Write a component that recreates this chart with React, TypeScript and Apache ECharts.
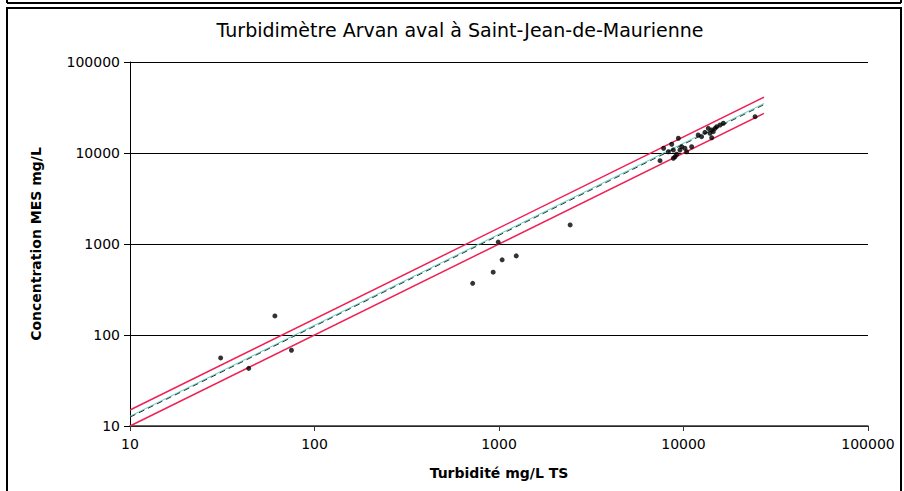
import React, { useEffect, useRef } from "react";
import * as echarts from "echarts";

const TITLE = "Turbidimètre Arvan aval à Saint-Jean-de-Maurienne";
const X_NAME = "Turbidité mg/L TS";
const Y_NAME = "Concentration MES mg/L";

// Measured points: [turbidity, concentration]
const points: [number, number][] = [
  [31, 56], [44, 43], [61, 162], [75, 68],
  [720, 370], [930, 490], [990, 1050], [1040, 670], [1240, 740], [2430, 1620],
  [7460, 8230], [7800, 11270], [8280, 10330], [8630, 12470], [8810, 10790], [8810, 8750],
  [9000, 9100], [9190, 9690], [9380, 14510], [9570, 10790], [9780, 11720], [10180, 11270],
  [10400, 10330], [11070, 11720], [12010, 15780], [12530, 15110], [13060, 16870],
  [13620, 18650], [13920, 16450], [14220, 17900], [14220, 14720], [14500, 17140],
  [14830, 18650], [15140, 19450], [15780, 20320], [16440, 21220], [24430, 25060],
];

// Fit line endpoints
const lowerLine: [number, number][] = [[10, 10], [27300, 27300]];
const fitLine: [number, number][] = [[10, 12.5], [27300, 34000]];
const cyanLine: [number, number][] = [[10, 12.8], [27300, 35000]];
const upperLine: [number, number][] = [[10, 15], [27300, 41000]];

const FONT = "'DejaVu Sans', Arial, sans-serif";

export default function App() {
  const ref = useRef<HTMLDivElement>(null);
  useEffect(() => {
    document.body.style.margin = "0";
    const chart = echarts.init(ref.current!, undefined, { renderer: "svg" });
    const fmt = (v: number) => String(Math.round(v));
    chart.setOption({
      animation: false,
      backgroundColor: "#ffffff",
      textStyle: { fontFamily: FONT },
      grid: { left: 130, right: 36, top: 62, bottom: 65 },
      xAxis: {
        type: "log",
        logBase: 10,
        min: 10,
        max: 100000,
        name: X_NAME,
        nameLocation: "middle",
        nameGap: 40,
        nameTextStyle: { fontSize: 14, fontWeight: "bold", color: "#000", fontFamily: FONT },
        axisLine: { show: true, lineStyle: { color: "#333", width: 1.5 } },
        axisTick: { show: true, length: 5, lineStyle: { color: "#333" } },
        axisLabel: { formatter: fmt, fontSize: 14, color: "#000", margin: 11, fontFamily: FONT },
        splitLine: { show: false },
        minorTick: { show: false },
      },
      yAxis: {
        type: "log",
        logBase: 10,
        min: 10,
        max: 100000,
        name: Y_NAME,
        nameLocation: "middle",
        nameGap: 87,
        nameRotate: 90,
        nameTextStyle: { fontSize: 14, fontWeight: "bold", color: "#000", fontFamily: FONT },
        axisLine: { show: true, lineStyle: { color: "#000", width: 1 } },
        axisTick: { show: true, length: 6, lineStyle: { color: "#000" } },
        axisLabel: { formatter: fmt, fontSize: 14, color: "#000", margin: 10, fontFamily: FONT },
        splitLine: { show: true, lineStyle: { color: "#000", width: 1 } },
      },
      series: [
        {
          type: "line",
          data: lowerLine,
          symbol: "none",
          lineStyle: { color: "#ee2255", width: 1.5 },
          z: 2,
        },
        {
          type: "line",
          data: upperLine,
          symbol: "none",
          lineStyle: { color: "#ee2255", width: 1.5 },
          z: 2,
        },
        {
          type: "line",
          data: cyanLine,
          symbol: "none",
          lineStyle: { color: "#66cccc", width: 1 },
          z: 2,
        },
        {
          type: "line",
          data: fitLine,
          symbol: "none",
          lineStyle: { color: "#1e3a2c", width: 1, type: [6, 4] },
          z: 3,
        },
        {
          type: "scatter",
          data: points,
          symbol: "circle",
          symbolSize: 5,
          itemStyle: { color: "#000" },
          z: 4,
        },
      ],
      graphic: [
        { type: "line", shape: { x1: 7, y1: 0, x2: 7, y2: 3 }, style: { stroke: "#000", lineWidth: 2 } },
        { type: "line", shape: { x1: 901, y1: 0, x2: 901, y2: 3 }, style: { stroke: "#000", lineWidth: 2 } },
        { type: "line", shape: { x1: 7, y1: 3, x2: 901, y2: 3 }, style: { stroke: "#000", lineWidth: 2 } },
        { type: "rect", shape: { x: 7, y: 8, width: 894, height: 490 }, style: { fill: "none", stroke: "#000", lineWidth: 2 } },
        {
          type: "text",
          x: 460,
          y: 30,
          style: {
            text: TITLE,
            fontSize: 19,
            fontFamily: FONT,
            fill: "#000",
            textAlign: "center",
            textVerticalAlign: "middle",
          },
        },
      ],
    });
    return () => chart.dispose();
  }, []);
  return <div ref={ref} style={{ width: 904, height: 491 }} />;
}
